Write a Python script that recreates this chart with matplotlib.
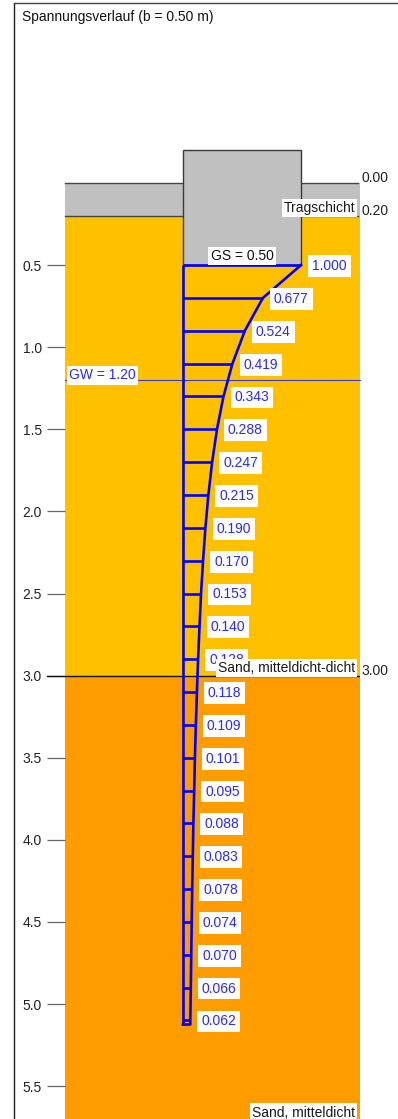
import matplotlib
matplotlib.use("Agg")
import matplotlib.pyplot as plt
from matplotlib.patches import Rectangle
from matplotlib.lines import Line2D

plt.rcParams["font.family"] = ["Liberation Sans", "DejaVu Sans"]

# --- data -------------------------------------------------------------
title = "Spannungsverlauf (b = 0.50 m)"
b = 0.50            # footing width [m]
gs = 0.50           # founding depth [m]
gw = 1.20           # groundwater level [m]
footing_top = -0.20

layer_names = ["Tragschicht", "Sand, mitteldicht-dicht", "Sand, mitteldicht"]
layer_tops = [0.00, 0.20, 3.00]
layer_bottoms = [0.20, 3.00, 5.71]
layer_colors = ["#C0C0C0", "#FFC000", "#FF9C00"]
level_labels = ["0.00", "0.20", "3.00"]
level_depths = [0.00, 0.20, 3.00]

depths = [0.5, 0.7, 0.9, 1.1, 1.3, 1.5, 1.7, 1.9, 2.1, 2.3, 2.5, 2.7,
          2.9, 3.1, 3.3, 3.5, 3.7, 3.9, 4.1, 4.3, 4.5, 4.7, 4.9, 5.1]
stress = [1.000, 0.677, 0.524, 0.419, 0.343, 0.288, 0.247, 0.215, 0.190,
          0.170, 0.153, 0.140, 0.128, 0.118, 0.109, 0.101, 0.095, 0.088,
          0.083, 0.078, 0.074, 0.070, 0.066, 0.062]

ytick_values = [0.5, 1.0, 1.5, 2.0, 2.5, 3.0, 3.5, 4.0, 4.5, 5.0, 5.5]

# --- layout -------------------------------------------------------------
W, H = 398, 1119
fig = plt.figure(figsize=(W / 100, H / 100), dpi=100)
ax = fig.add_axes([0, 0, 1, 1])
px_x = 236.0     # pixels per metre, horizontal
px_y = 164.2     # pixels per metre, vertical
x0_px, y0_px = 183.0, 183.0
ax.set_xlim(-x0_px / px_x, (W - x0_px) / px_x)
ax.set_ylim((H - y0_px) / px_y, -y0_px / px_y)

x_left, x_right = -0.50, 0.75
blue = "#0000FF"
label_blue = "#2A2AF8"

for s in ax.spines.values():
    s.set_visible(False)
ax.spines["left"].set_position(("data", x_left))
ax.set_xticks([])
ax.set_yticks(ytick_values)
ax.set_yticklabels([f"{v:.1f}" for v in ytick_values])
ax.tick_params(axis="y", direction="out", length=13, width=0.9,
               color="#666666", pad=3.6, labelsize=10, labelcolor="#222222")

# soil layers
for top, bot, col in zip(layer_tops, layer_bottoms, layer_colors):
    ax.add_patch(Rectangle((x_left, top), x_right - x_left, bot - top,
                           facecolor=col, edgecolor="none", zorder=1))

# layer boundaries and elevations
for lab, d in zip(level_labels, level_depths):
    if d >= 3.0:
        ax.plot([x_left - 18 / px_x, x_right], [d, d], color="#111111", lw=1.0, zorder=2)
    else:
        ax.plot([x_left, x_right - 0.008], [d, d], color="#444444", lw=1.0, zorder=2)
    ax.text(x_right + 0.008, d - 5 / px_y, lab, ha="left", va="center",
            fontsize=10, color="#222222", zorder=7,
            bbox=dict(facecolor="white", edgecolor="none", boxstyle="square,pad=0.12"))

# groundwater
ax.plot([x_left, x_right], [gw, gw], color="#3C3CC8", lw=0.8, zorder=4)
ax.text(x_left + 4 / px_x, gw - 5 / px_y, f"GW = {gw:.2f}", ha="left", va="center",
        fontsize=10, color=label_blue, zorder=7,
        bbox=dict(facecolor="white", edgecolor="none", boxstyle="square,pad=0.18"))

# footing
ax.add_patch(Rectangle((0, footing_top), b, gs - footing_top, facecolor="#C0C0C0",
                       edgecolor="#3A3A3A", lw=1.0, zorder=3))
ax.text(b / 2, gs - 9 / px_y, f"GS = {gs:.2f}", ha="center", va="center",
        fontsize=10, color="#111111", zorder=7,
        bbox=dict(facecolor="white", edgecolor="none", boxstyle="square,pad=0.15"))

# stress distribution below the footing
xs = [v * b for v in stress]
cap = 0.025
ax.plot([0, 0], [depths[0], depths[-1] + cap], color=blue, lw=1.9, zorder=5,
        solid_capstyle="butt")
ax.plot(xs + [xs[-1], 0], depths + [depths[-1] + cap, depths[-1] + cap],
        color=blue, lw=1.9, zorder=5)
for x, d, v in zip(xs, depths, stress):
    ax.plot([0, x], [d, d], color=blue, lw=1.9, zorder=5, solid_capstyle="butt")
    ax.text(x + 11 / px_x, d + 1 / px_y, f"{v:.3f}", ha="left", va="center",
            fontsize=10, color=label_blue, zorder=6,
            bbox=dict(facecolor="white", edgecolor="none", boxstyle="square,pad=0.28"))

# layer names
for name, bot in zip(layer_names, layer_bottoms):
    ax.text(x_right - 0.02, bot - 8 / px_y, name, ha="right", va="center",
            fontsize=10, color="#1A1A1A", zorder=8,
            bbox=dict(facecolor="white", edgecolor="none", boxstyle="square,pad=0.15"))

# frame and title
fig.add_artist(Line2D([13.5 / W, 13.5 / W], [0, 1 - 2.5 / H], transform=fig.transFigure,
                      color="#222222", lw=1.0))
fig.add_artist(Line2D([13.5 / W, 1], [1 - 2.5 / H, 1 - 2.5 / H], transform=fig.transFigure,
                      color="#444444", lw=1.0))
fig.text(22 / W, 1 - 17 / H, title, ha="left", va="center", fontsize=10, color="#111111")

fig.savefig("out.png", dpi=100)
